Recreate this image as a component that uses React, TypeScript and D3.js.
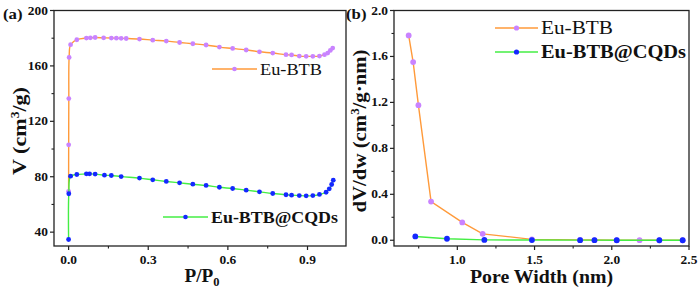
import React from "react";
import * as d3 from "d3";

// ---------- data ----------
// (a) N2 isotherms
const isoP_BTB = [0.0, 0.0003, 0.0008, 0.002, 0.0075, 0.031, 0.067, 0.082, 0.1, 0.132, 0.161, 0.18, 0.198, 0.217, 0.267, 0.317, 0.368, 0.418, 0.468, 0.518, 0.568, 0.618, 0.669, 0.719, 0.769, 0.819, 0.84, 0.869, 0.895, 0.92, 0.945, 0.964, 0.976, 0.986, 0.995];
const isoV_BTB = [69.5, 103, 136.4, 166.1, 175.3, 178.9, 180.1, 180.3, 180.5, 180.3, 180.1, 180.0, 179.9, 179.8, 179.4, 178.6, 177.9, 176.9, 176.0, 175.1, 173.6, 172.6, 171.5, 170.2, 169.3, 168.1, 167.9, 167.1, 166.9, 166.9, 167.1, 168.1, 169.3, 171.2, 172.9];
const isoP_CQD = [0.0, 0.0008, 0.0075, 0.031, 0.067, 0.079, 0.1, 0.135, 0.161, 0.198, 0.267, 0.317, 0.368, 0.418, 0.468, 0.518, 0.568, 0.618, 0.669, 0.719, 0.769, 0.819, 0.84, 0.869, 0.895, 0.92, 0.945, 0.97, 0.982, 0.991, 0.997];
const isoV_CQD = [34.7, 67.7, 80.4, 81.6, 82.1, 82.1, 81.9, 81.1, 80.9, 80.1, 79.0, 77.8, 76.6, 75.6, 74.6, 73.7, 72.4, 71.5, 70.3, 69.1, 67.9, 67.0, 66.7, 66.4, 66.2, 66.4, 67.2, 68.8, 71.3, 74.4, 77.5];
// (b) pore size distributions
const pw_BTB = [0.685, 0.714, 0.748, 0.83, 1.032, 1.164, 1.483, 1.795, 1.888, 2.032, 2.18, 2.308, 2.459];
const dv_BTB = [1.783, 1.551, 1.176, 0.337, 0.155, 0.056, 0.008, 0.003, 0.002, 0.001, 0.001, 0.0, 0.0];
const pw_CQD = [0.728, 0.933, 1.175, 1.483, 1.795, 1.888, 2.032, 2.308, 2.459];
const dv_CQD = [0.033, 0.013, 0.003, 0.002, 0.001, 0.001, 0.0, 0.0, 0.0];

const aYTicks = [40, 80, 120, 160, 200];
const aYMinor = [60, 100, 140, 180];
const aXTicks = [0.0, 0.3, 0.6, 0.9];
const aXMinor = [0.15, 0.45, 0.75];
const bYTicks = [0.0, 0.4, 0.8, 1.2, 1.6, 2.0];
const bYMinor = [0.2, 0.6, 1.0, 1.4, 1.8];
const bXTicks = [1.0, 1.5, 2.0, 2.5];
const bXMinor = [0.75, 1.25, 1.75, 2.25];

const seriesNames = ["Eu-BTB", "Eu-BTB@CQDs"];

// ---------- styles ----------
const FONT = "'Liberation Serif', 'Times New Roman', serif";
const ORANGE = "#ff9a3a";
const PURPLE = "#c983ff";
const GREEN = "#44ee44";
const BLUE = "#1428ff";
const AXIS = "#222";
const SX = 1.12;

function T({ x, y, size, weight = "bold", anchor = "start", rotate = 0, sx = SX, len, children }: any) {
  const extra = len ? { textLength: len, lengthAdjust: "spacingAndGlyphs" } : {};
  return (
    <g transform={`translate(${x},${y}) scale(${len ? 1 : sx},1)${rotate ? ` rotate(${rotate})` : ""}`}>
      <text fontFamily={FONT} fontSize={size} fontWeight={weight} textAnchor={anchor} fill="#111" {...extra}>
        {children}
      </text>
    </g>
  );
}

function Panel({ x, y, xT, xM, yT, yM, xFmt, yFmt }: any) {
  const [x0, x1] = x.range();
  const [y0, y1] = y.range();
  return (
    <g>
      <rect x={x0} y={y1} width={x1 - x0} height={y0 - y1} fill="none" stroke={AXIS} strokeWidth={1.3} />
      {yT.map((v: number) => (
        <g key={"yt" + v}>
          <line x1={x0 - 4} x2={x0} y1={y(v)} y2={y(v)} stroke={AXIS} strokeWidth={1.2} />
          <T x={x0 - 6} y={y(v) + 4} size={12} anchor="end">{yFmt(v)}</T>
        </g>
      ))}
      {yM.map((v: number) => (
        <line key={"ym" + v} x1={x0 - 2.5} x2={x0} y1={y(v)} y2={y(v)} stroke={AXIS} strokeWidth={1.1} />
      ))}
      {xT.map((v: number) => (
        <g key={"xt" + v}>
          <line x1={x(v)} x2={x(v)} y1={y0} y2={y0 + 4} stroke={AXIS} strokeWidth={1.2} />
          <T x={x(v)} y={y0 + 17.5} size={12} anchor="middle">{xFmt(v)}</T>
        </g>
      ))}
      {xM.map((v: number) => (
        <line key={"xm" + v} x1={x(v)} x2={x(v)} y1={y0} y2={y0 + 2.5} stroke={AXIS} strokeWidth={1.1} />
      ))}
    </g>
  );
}

function Series({ xs, ys, x, y, line, mark, r, curve }: any) {
  const pts = xs.map((v: number, i: number) => [x(v), y(ys[i])] as [number, number]);
  const path = d3.line().curve(curve)(pts) || "";
  return (
    <g>
      <path d={path} fill="none" stroke={line} strokeWidth={1.4} />
      {pts.map((p: [number, number], i: number) => (
        <circle key={i} cx={p[0]} cy={p[1]} r={r} fill={mark} />
      ))}
    </g>
  );
}

function LegendItem({ x1, x2, y, line, mark, r, label, size, weight, len }: any) {
  return (
    <g>
      <line x1={x1} x2={x2} y1={y} y2={y} stroke={line} strokeWidth={1.4} />
      <circle cx={(x1 + x2) / 2} cy={y} r={r} fill={mark} />
      <T x={x2 + 3} y={y + size * 0.35} size={size} weight={weight} len={len}>{label}</T>
    </g>
  );
}

export default function App() {
  const xa = d3.scaleLinear().domain([-0.055, 1.045]).range([54, 346]);
  const ya = d3.scaleLinear().domain([30, 200]).range([246, 10.5]);
  const xb = d3.scaleLinear().domain([0.59, 2.5]).range([394, 689]);
  const yb = d3.scaleLinear().domain([-0.05, 2.0]).range([246, 10.5]);
  const cr = d3.curveCatmullRom.alpha(0.5);

  return (
    <svg width={700} height={290} style={{ position: "fixed", left: 0, top: 0, background: "#fff" }}>
      <rect width={700} height={290} fill="#fff" />
      {/* panel (a) */}
      <Panel x={xa} y={ya} xT={aXTicks} xM={aXMinor} yT={aYTicks} yM={aYMinor}
        xFmt={(v: number) => v.toFixed(1)} yFmt={(v: number) => String(v)} />
      <Series xs={isoP_BTB} ys={isoV_BTB} x={xa} y={ya} line={ORANGE} mark={PURPLE} r={2.4} curve={cr} />
      <Series xs={isoP_CQD} ys={isoV_CQD} x={xa} y={ya} line={GREEN} mark={BLUE} r={2.4} curve={cr} />
      <LegendItem x1={212} x2={257} y={69} line={ORANGE} mark={PURPLE} r={2.3} label={seriesNames[0]} size={16} weight="normal" len={62} />
      <LegendItem x1={163} x2={208} y={217} line={GREEN} mark={BLUE} r={2.3} label={seriesNames[1]} size={16} weight="bold" len={127} />
      <T x={3} y={19} size={15}>(a)</T>
      <T x={26} y={131} size={19.5} anchor="middle" rotate={-90} len={88}>
        V (cm<tspan dy="-7" fontSize={12}>3</tspan><tspan dy="7">/g)</tspan>
      </T>
      <T x={202} y={282} size={18.5} anchor="middle" len={35}>
        P/P<tspan dy="4" fontSize={12}>0</tspan>
      </T>

      {/* panel (b) */}
      <Panel x={xb} y={yb} xT={bXTicks} xM={bXMinor} yT={bYTicks} yM={bYMinor}
        xFmt={(v: number) => v.toFixed(1)} yFmt={(v: number) => v.toFixed(1)} />
      <Series xs={pw_BTB} ys={dv_BTB} x={xb} y={yb} line={ORANGE} mark={PURPLE} r={2.9} curve={d3.curveLinear} />
      <Series xs={pw_CQD} ys={dv_CQD} x={xb} y={yb} line={GREEN} mark={BLUE} r={2.9} curve={d3.curveLinear} />
      <LegendItem x1={495} x2={538} y={28} line={ORANGE} mark={PURPLE} r={2.6} label={seriesNames[0]} size={18} weight="normal" len={72} />
      <LegendItem x1={495} x2={538} y={52} line={GREEN} mark={BLUE} r={2.6} label={seriesNames[1]} size={18} weight="bold" len={145} />
      <T x={346} y={19} size={15}>(b)</T>
      <T x={366} y={131} size={19.5} anchor="middle" rotate={-90} len={163}>
        dV/dw (cm<tspan dy="-7" fontSize={12}>3</tspan><tspan dy="7">/g·nm)</tspan>
      </T>
      <T x={541.5} y={282.5} size={18.5} anchor="middle" len={143}>Pore Width (nm)</T>
    </svg>
  );
}
